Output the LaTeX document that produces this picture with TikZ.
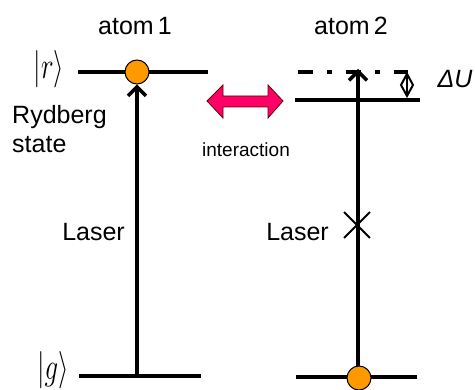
\documentclass[tikz,border=0pt]{standalone}
\usepackage{fontspec}
\setmainfont{Liberation Sans}
\usetikzlibrary{arrows.meta,shapes.misc}
\definecolor{ballorange}{RGB}{255,153,0}
\definecolor{hotpink}{RGB}{255,0,102}
\newcommand{\ketsym}[1]{\scalebox{1.08}[1.5]{\fontsize{24.88}{30}\selectfont$|#1\rangle$}}
\begin{document}
\begin{tikzpicture}[x=1pt,y=-1pt,
  level/.style={line width=4.5pt},
  laser/.style={line width=3.5pt,-{Straight Barb[length=9pt,width=18pt]}},
  ball/.style={circle,fill=ballorange,draw=black,line width=1pt,minimum size=24pt,inner sep=0pt},
  lbl/.style={font=\fontsize{25}{30}\selectfont},
]
\useasboundingbox (0,0) rectangle (475,390);
% atom 1 levels
\coordinate (r1a) at (78,72);
\coordinate (r1b) at (208,72);
\coordinate (g1a) at (79,376);
\coordinate (g1b) at (201,376);
\coordinate (g1m) at (137,376);
\draw[level] (r1a) -- (r1b);
\draw[level] (g1a) -- (g1b);
\node[ball] (ball1) at (137,72) {};
\draw[laser] (g1m) -- (ball1.south);
% atom 2 levels
\coordinate (d2a) at (298,72);
\coordinate (d2b) at (408,72);
\coordinate (s2a) at (295,100);
\coordinate (s2b) at (420,100);
\coordinate (g2a) at (296,377);
\coordinate (g2b) at (417,377);
\coordinate (tip2) at (358,69);
\draw[line width=4pt,dash pattern=on 15pt off 14pt on 5pt off 14pt] (d2a) -- (d2b);
\draw[level] (s2a) -- (s2b);
\draw[line width=3.5pt] (g2a) -- (g2b);
\node[ball] (ball2) at (359,378) {};
\coordinate (b2n) at (358,366);
\draw[laser] (b2n) -- (tip2);
\node[cross out,draw=black,line width=1.8pt,minimum size=24pt,inner sep=0pt] (x2) at (357,225) {};
% Delta U arrow
\coordinate (du1) at (407,74);
\coordinate (du2) at (407,96);
\coordinate (dul) at (401,85);
\coordinate (dur) at (413,85);
\draw[line width=2pt] (du1) -- (du2);
\draw[line width=2pt,line join=miter] (du1) -- (dur) -- (du2) -- (dul) -- cycle;
\node[font=\fontsize{25}{30}\selectfont\itshape,anchor=base west] (du) at (434,88) {ΔU};
% interaction arrow
\draw[fill=hotpink,draw=black!60!red,line width=0.8pt]
  (207,101) -- (223,85) -- (223,96) -- (268,96) -- (268,85) -- (283,101)
  -- (268,118) -- (268,107) -- (223,107) -- (223,118) -- cycle;
\node[font=\fontsize{19}{22}\selectfont,anchor=base] (inter) at (246,157) {interaction};
% labels
\node[lbl,anchor=base] (a1) at (135,35) {atom\,1};
\node[lbl,anchor=base] (a2) at (351,35) {atom\,2};
\node[lbl,anchor=west,align=left,inner sep=0pt] (ryd) at (12,129) {Rydberg\\[-1pt]state};
\node[lbl,anchor=base east,inner sep=0pt] (las1) at (125,241) {Laser};
\node[lbl,anchor=base east,inner sep=0pt] (las2) at (329,241) {Laser};
\node[anchor=center,inner sep=0pt] (kr) at (49,69) {\ketsym{r}};
\node[anchor=center,inner sep=0pt] (kg) at (53,370) {\ketsym{g}};
\end{tikzpicture}
\end{document}
